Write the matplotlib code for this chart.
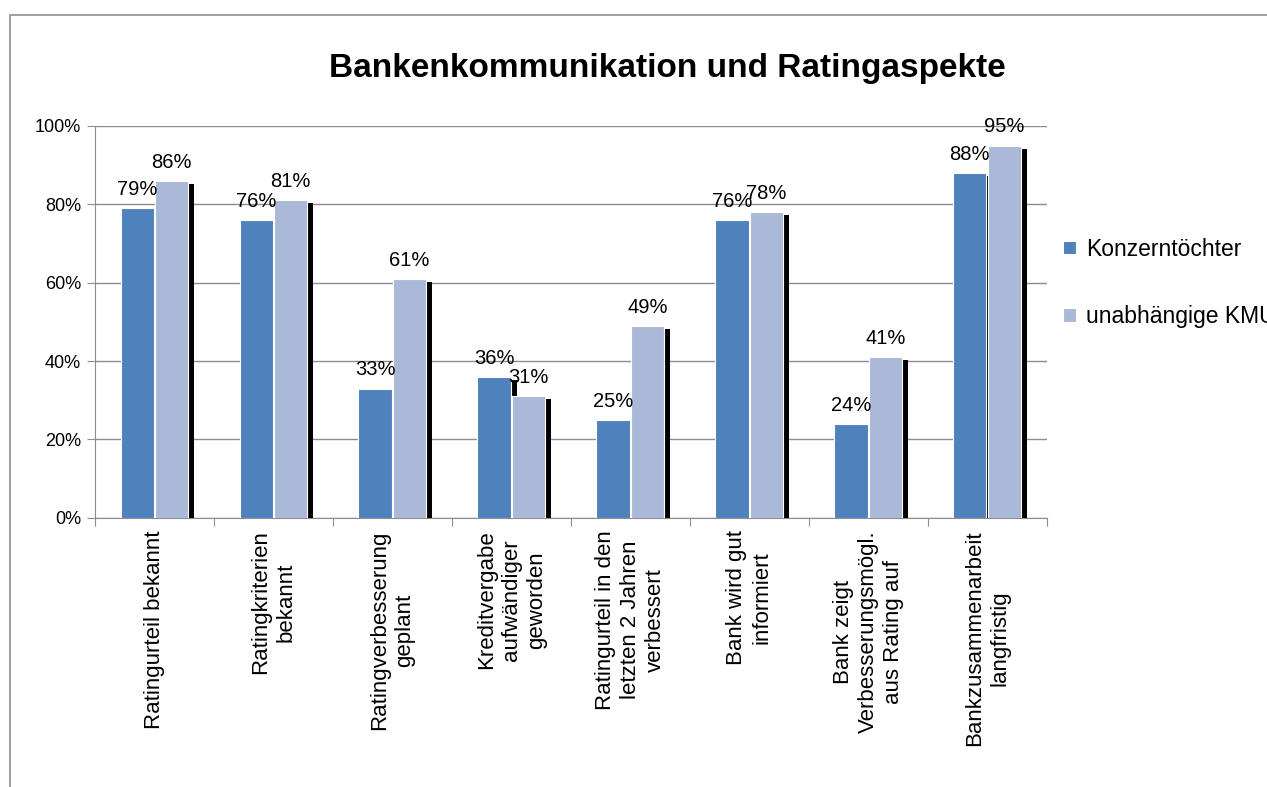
import numpy as np
import matplotlib
matplotlib.use('Agg')
import matplotlib.pyplot as plt
import matplotlib.patheffects as pe
from matplotlib.patches import Rectangle

plt.rcParams['font.family'] = ['Liberation Sans', 'DejaVu Sans']

categories = [
    'Ratingurteil bekannt',
    'Ratingkriterien\nbekannt',
    'Ratingverbesserung\ngeplant',
    'Kreditvergabe\naufwändiger\ngeworden',
    'Ratingurteil in den\nletzten 2 Jahren\nverbessert',
    'Bank wird gut\ninformiert',
    'Bank zeigt\nVerbesserungsmögl.\naus Rating auf',
    'Bankzusammenarbeit\nlangfristig',
]
konzern = [79, 76, 33, 36, 25, 76, 24, 88]
kmu = [86, 81, 61, 31, 49, 78, 41, 95]
series_names = ['Konzerntöchter', 'unabhängige KMU']

fig = plt.figure(figsize=(12.67, 7.87), dpi=100)
ax = fig.add_axes([0.075, 0.342, 0.751, 0.498])

# outer chart border (Excel style, cut at right/bottom)
fig.patches.append(Rectangle((0.008, -0.05), 1.1, 1.031, transform=fig.transFigure,
                             fill=False, edgecolor='#8c8c8c', linewidth=1.2))

x = np.arange(len(categories))
w = 0.28
shadow = [pe.SimplePatchShadow(offset=(4.3, -2.2), shadow_rgbFace='black', alpha=1.0), pe.Normal()]

b1 = ax.bar(x - 0.145, np.array(konzern) / 100, w, color='#4F81BD', edgecolor='white',
            linewidth=0.8, label=series_names[0], zorder=3, path_effects=shadow)
b2 = ax.bar(x + 0.145, np.array(kmu) / 100, w, color='#AAB9D7', edgecolor='white',
            linewidth=0.8, label=series_names[1], zorder=3, path_effects=shadow)

for bars, vals in ((b1, konzern), (b2, kmu)):
    for rect, v in zip(bars, vals):
        ax.annotate(f'{v}%', (rect.get_x() + rect.get_width() / 2, rect.get_height()),
                    xytext=(0, 6.5), textcoords='offset points', ha='center', va='bottom',
                    fontsize=14.5, zorder=5)

ax.set_ylim(0, 1)
ax.set_xlim(-0.5, len(categories) - 0.5)
ax.set_yticks(np.arange(0, 1.01, 0.2))
ax.set_yticklabels([f'{int(round(t * 100))}%' for t in np.arange(0, 1.01, 0.2)], fontsize=13)
ax.yaxis.grid(True, color='#8c8c8c', linewidth=1)
ax.set_axisbelow(True)

# category boundary ticks, labels at centers
ax.set_xticks(np.arange(-0.5, len(categories), 1))
ax.set_xticklabels([])
ax.set_xticks(x, minor=True)
ax.set_xticklabels(categories, minor=True, rotation=90, ha='center', va='top',
                   multialignment='center', fontsize=16, linespacing=1.25)
ax.tick_params(axis='x', which='minor', length=0, pad=9)
ax.tick_params(axis='x', which='major', length=6, color='#8c8c8c', direction='out')
ax.tick_params(axis='y', length=6, color='#8c8c8c', direction='out', pad=4)

for s in ('top', 'right'):
    ax.spines[s].set_visible(False)
for s in ('left', 'bottom'):
    ax.spines[s].set_color('#8c8c8c')

fig.text(0.527, 0.913, 'Bankenkommunikation und Ratingaspekte', ha='center', va='center',
         fontsize=24, fontweight='bold')

# legend sits at the right edge; the last letter is clipped like in the original
leg = fig.legend(handles=[b1, b2], loc='upper left', bbox_to_anchor=(0.839, 0.698),
                 frameon=False, fontsize=16.5, labelspacing=1.93, handlelength=0.55,
                 handleheight=0.55, handletextpad=0.45, borderpad=0, borderaxespad=0)
for h in leg.legend_handles:
    h.set_path_effects([])

plt.savefig('out.png', dpi=100)
